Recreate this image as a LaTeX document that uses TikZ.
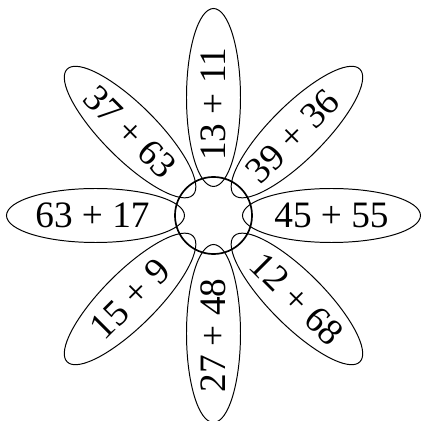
\documentclass[tikz,border=0pt]{standalone}
\usepackage{fontspec}
\setmainfont{Liberation Serif}
\usepackage{tikz}

\begin{document}
\begin{tikzpicture}[x=0.025cm, y=0.025cm,
  petal/.style={line width=0.7pt},
  heart/.style={draw, circle, line width=1.2pt, minimum size=1.925cm, inner sep=0pt},
  sum/.style={font=\fontsize{26.5}{31}\selectfont, inner sep=0pt}]
\useasboundingbox (-213.5,-205.5) rectangle (208.5,215.5);

% Centre of the flower
\node[heart] (c) at (0,0) {};

% Petals: direction / sum / text angle / text distance
\foreach \a/\s/\r/\d [count=\i] in {0/45 + 55/0/118, 45/39 + 36/45/112, 90/13 + 11/90/111,
    135/37 + 63/-45/118, 180/63 + 17/0/121, 225/15 + 9/45/118, 270/27 + 48/90/120,
    315/12 + 68/-45/118} {
  \draw[petal, rotate=\a] (118,0) ellipse (89 and 27);
  \node[sum, rotate=\r] (p\i) at (\a:\d) {\s};
}
\end{tikzpicture}
\end{document}
